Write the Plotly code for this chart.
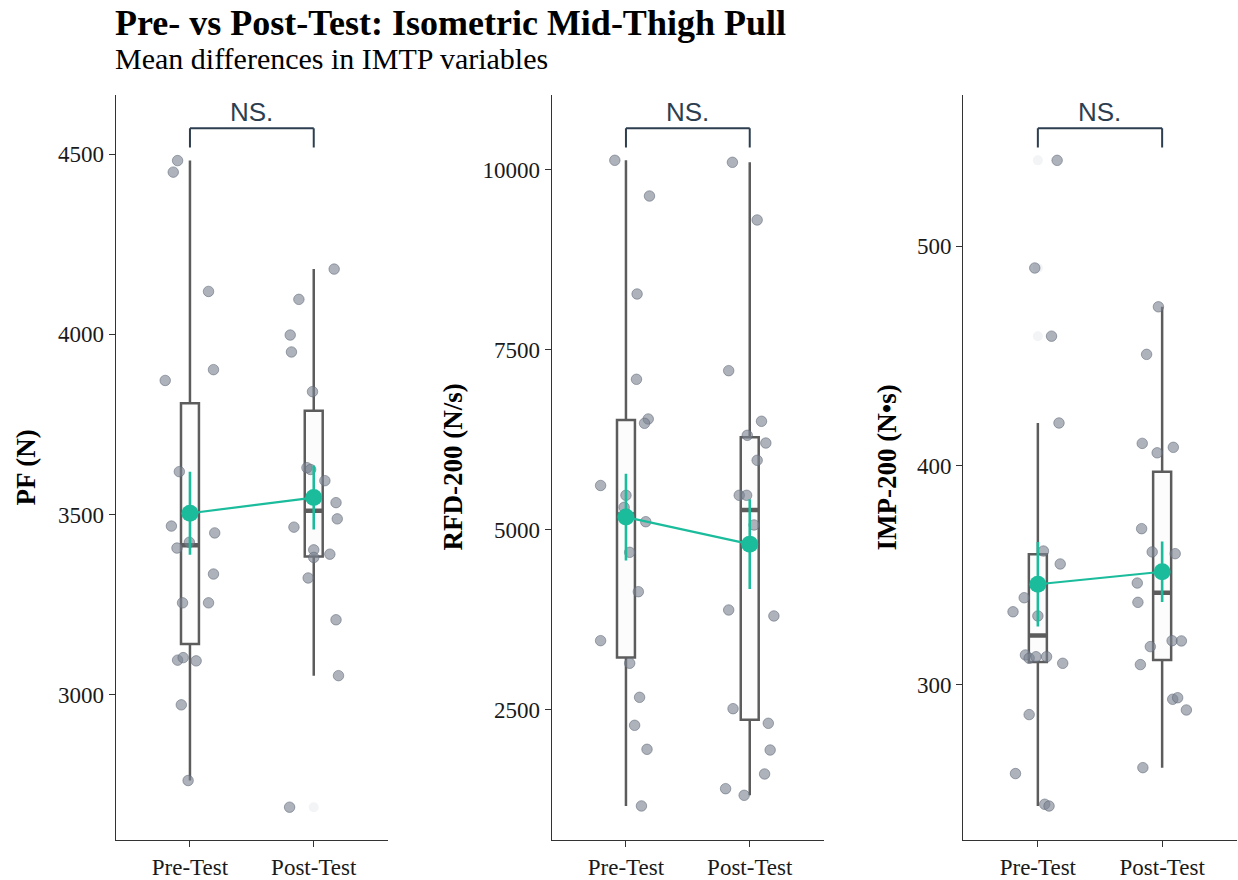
import numpy as np
import plotly.graph_objects as go

# ---------------- data ----------------
groups = ["Pre-Test", "Post-Test"]
y_titles = ["PF (N)", "RFD-200 (N/s)", "IMP-200 (N•s)"]
sig_labels = ["NS.", "NS.", "NS."]

pf_pre = [4482, 4450, 4119, 3902, 3872, 3619, 3468, 3407, 3423, 3449, 3335,
          3255, 3255, 3096, 3103, 3094, 2972, 2762]
pf_pre_jit = [-0.10, -0.135, 0.15, 0.19, -0.20, -0.086, -0.15, -0.105, -0.005, 0.20, 0.19,
              -0.06, 0.15, -0.10, -0.055, 0.05, -0.07, -0.015]
pf_post = [4181, 4097, 3998, 3951, 3841, 3630, 3625, 3594, 3533, 3488, 3465,
           3402, 3381, 3390, 3324, 3208, 3053, 2688]
pf_post_jit = [0.165, -0.12, -0.19, -0.18, -0.01, -0.055, -0.025, 0.09, 0.18, 0.19, -0.16,
               0.0, 0.0, 0.13, -0.045, 0.18, 0.20, -0.195]

rfd_pre = [10128, 9632, 8271, 7086, 6535, 6475, 5611, 5475, 5308, 5108, 4683,
           4136, 3456, 3142, 2669, 2280, 1947, 1160]
rfd_pre_jit = [-0.09, 0.19, 0.09, 0.085, 0.18, 0.15, -0.205, 0.0, -0.015, 0.16, 0.03,
               0.10, -0.205, 0.03, 0.11, 0.07, 0.17, 0.125]
rfd_post = [10100, 9299, 7206, 6503, 6308, 6201, 5961, 5475, 5475, 5063, 3882,
            3799, 2511, 2308, 1937, 1604, 1400, 1308]
rfd_post_jit = [-0.14, 0.06, -0.17, 0.095, -0.02, 0.13, 0.06, -0.085, -0.025, 0.035, -0.17,
                0.195, -0.135, 0.15, 0.165, 0.12, -0.195, -0.045]

imp_pre = [539.2, 490.1, 459.0, 419.4, 361.0, 355.1, 339.7, 333.3, 331.4, 313.6, 312.1,
           312.8, 312.8, 309.8, 286.4, 259.5, 245.5, 244.7]
imp_pre_jit = [0.155, -0.025, 0.11, 0.17, 0.045, 0.18, -0.11, -0.20, 0.0, -0.10, -0.07,
               -0.015, 0.07, 0.20, -0.07, -0.18, 0.055, 0.09]
imp_post = [472.4, 450.7, 410.1, 408.3, 405.8, 371.2, 360.6, 359.8, 346.4, 337.6, 320.1,
            320.0, 317.4, 309.2, 293.4, 294.1, 288.5, 262.2]
imp_post_jit = [-0.03, -0.125, -0.16, 0.09, -0.04, -0.165, -0.08, 0.105, -0.20, -0.195, 0.08,
                0.155, -0.095, -0.175, 0.085, 0.125, 0.195, -0.155]

y_ranges = [[2597, 4664], [687, 11035], [229.2, 569]]
y_ticks = [[3000, 3500, 4000, 4500], [2500, 5000, 7500, 10000], [300, 400, 500]]
y_ticktext = [["3000", "3500", "4000", "4500"], ["2500", "5000", "7500", "10000"],
              ["300", "400", "500"]]

panels = [
    (pf_pre, pf_pre_jit, pf_post, pf_post_jit),
    (rfd_pre, rfd_pre_jit, rfd_post, rfd_post_jit),
    (imp_pre, imp_pre_jit, imp_post, imp_post_jit),
]

# ---------------- styling ----------------
W, H = 1238, 880
x_domains_px = [(115.7, 388.0), (551.7, 824.0), (963.3, 1236.7)]
y_top_px, y_bot_px = 95.0, 840.0
ytitle_x_px = [25, 452, 886]

SERIF = "Liberation Serif, Times New Roman, serif"
SANS = "Liberation Sans, Arial, sans-serif"
AXIS_C = "#333333"
BOX_C = "#5c5c5c"
TEAL = "#1abc9c"
SIG_C = "#2c3e50"
BOX_W = 0.145


def box_stats(v):
    v = np.asarray(v, dtype=float)
    q1, med, q3 = np.percentile(v, [25, 50, 75])
    iqr = q3 - q1
    lo_f, hi_f = q1 - 1.5 * iqr, q3 + 1.5 * iqr
    inside = v[(v >= lo_f) & (v <= hi_f)]
    out = v[(v < lo_f) | (v > hi_f)]
    return q1, med, q3, inside.min(), inside.max(), out


fig = go.Figure()
layout_axes = {}
shapes = []
annotations = []

for i, (pre, pre_j, post, post_j) in enumerate(panels):
    k = "" if i == 0 else str(i + 1)
    xa, ya = "x" + k, "y" + k
    sets = [(0, pre, pre_j), (1, post, post_j)]

    stats = [box_stats(v) for _, v, _ in sets]
    # box plot
    fig.add_trace(go.Box(
        x=[0, 1],
        q1=[s[0] for s in stats], median=[s[1] for s in stats], q3=[s[2] for s in stats],
        lowerfence=[s[3] for s in stats], upperfence=[s[4] for s in stats],
        width=BOX_W, whiskerwidth=0, fillcolor="#fcfcfc",
        line=dict(color=BOX_C, width=2.5), boxpoints=False,
        xaxis=xa, yaxis=ya, showlegend=False, hoverinfo="skip",
    ))
    # thicker median segments
    for xpos, s in zip([0, 1], stats):
        fig.add_trace(go.Scatter(
            x=[xpos - BOX_W / 2, xpos + BOX_W / 2], y=[s[1], s[1]], mode="lines",
            line=dict(color=BOX_C, width=4.5), xaxis=xa, yaxis=ya,
            showlegend=False, hoverinfo="skip"))
        # box-plot outliers (faint)
        if len(s[5]):
            fig.add_trace(go.Scatter(
                x=[xpos] * len(s[5]), y=list(s[5]), mode="markers",
                marker=dict(size=10, color="#f3f4f6", line=dict(width=0)),
                xaxis=xa, yaxis=ya, showlegend=False, hoverinfo="skip"))

    # jittered points
    for xpos, vals, jit in sets:
        fig.add_trace(go.Scatter(
            x=[xpos + j for j in jit], y=vals, mode="markers",
            marker=dict(size=10.5, color="rgba(122,130,146,0.62)",
                        line=dict(color="rgba(95,103,118,0.55)", width=1)),
            xaxis=xa, yaxis=ya, showlegend=False, hoverinfo="skip"))

    # mean +/- SE
    means = [float(np.mean(v)) for _, v, _ in sets]
    ses = [float(np.std(v, ddof=1) / np.sqrt(len(v))) for _, v, _ in sets]
    fig.add_trace(go.Scatter(
        x=[0, 1], y=means, mode="lines+markers",
        line=dict(color=TEAL, width=2.2),
        marker=dict(size=17, color=TEAL),
        error_y=dict(type="data", array=ses, color=TEAL, thickness=2.6, width=0),
        xaxis=xa, yaxis=ya, showlegend=False, hoverinfo="skip"))

    x0, x1 = x_domains_px[i]
    layout_axes["xaxis" + k] = dict(
        domain=[x0 / W, x1 / W], range=[-0.6, 1.6], anchor=ya, automargin=False,
        tickmode="array", tickvals=[0, 1], ticktext=groups,
        showline=True, linecolor=AXIS_C, linewidth=1.2,
        ticks="outside", ticklen=6, tickcolor=AXIS_C, tickwidth=1.2,
        showgrid=False, zeroline=False,
        tickfont=dict(family=SERIF, size=23, color="#1a1a1a"), fixedrange=True)
    layout_axes["yaxis" + k] = dict(
        domain=[1 - y_bot_px / H, 1 - y_top_px / H], range=y_ranges[i], anchor=xa,
        automargin=False,
        tickmode="array", tickvals=y_ticks[i], ticktext=y_ticktext[i],
        showline=True, linecolor=AXIS_C, linewidth=1.2,
        ticks="outside", ticklen=6, tickcolor=AXIS_C, tickwidth=1.2,
        showgrid=False, zeroline=False,
        tickfont=dict(family=SERIF, size=23, color="#1a1a1a"), fixedrange=True)

    # significance bracket
    yb_top = (y_bot_px - 128.3) / (y_bot_px - y_top_px)
    yb_leg = (y_bot_px - 147.5) / (y_bot_px - y_top_px)
    for (ax0, ay0, ax1, ay1) in [(0, yb_leg, 0, yb_top), (0, yb_top, 1, yb_top), (1, yb_top, 1, yb_leg)]:
        shapes.append(dict(type="line", xref=xa, yref=ya + " domain",
                           x0=ax0, y0=ay0, x1=ax1, y1=ay1,
                           line=dict(color=SIG_C, width=2)))
    annotations.append(dict(
        text=sig_labels[i], xref=xa, x=0.5, yref=ya + " domain",
        y=(y_bot_px - 112) / (y_bot_px - y_top_px), yanchor="middle", xanchor="center",
        showarrow=False, font=dict(family=SANS, size=26, color=SIG_C)))

    # y axis title
    annotations.append(dict(
        text="<b>" + y_titles[i] + "</b>", xref="paper", yref="paper",
        x=ytitle_x_px[i] / W, y=1 - ((y_top_px + y_bot_px) / 2) / H,
        xanchor="center", yanchor="middle", textangle=-90, showarrow=False,
        font=dict(family=SERIF, size=27, color="#000000")))

# titles
annotations.append(dict(
    text="<b>Pre- vs Post-Test: Isometric Mid-Thigh Pull</b>", xref="paper", yref="paper",
    x=113 / W, y=1 - 23 / H, xanchor="left", yanchor="middle", showarrow=False,
    font=dict(family=SERIF, size=36, color="#000000")))
annotations.append(dict(
    text="Mean differences in IMTP variables", xref="paper", yref="paper",
    x=113 / W, y=1 - 58 / H, xanchor="left", yanchor="middle", showarrow=False,
    font=dict(family=SERIF, size=30, color="#000000")))

fig.update_layout(
    width=W, height=H, margin=dict(l=0, r=0, t=0, b=0, autoexpand=False),
    paper_bgcolor="white", plot_bgcolor="white",
    showlegend=False, shapes=shapes, annotations=annotations,
    **layout_axes,
)

fig.write_html("out.html", config={"displayModeBar": False},
               post_script="document.body.style.margin='0px';document.body.style.overflow='hidden';")
